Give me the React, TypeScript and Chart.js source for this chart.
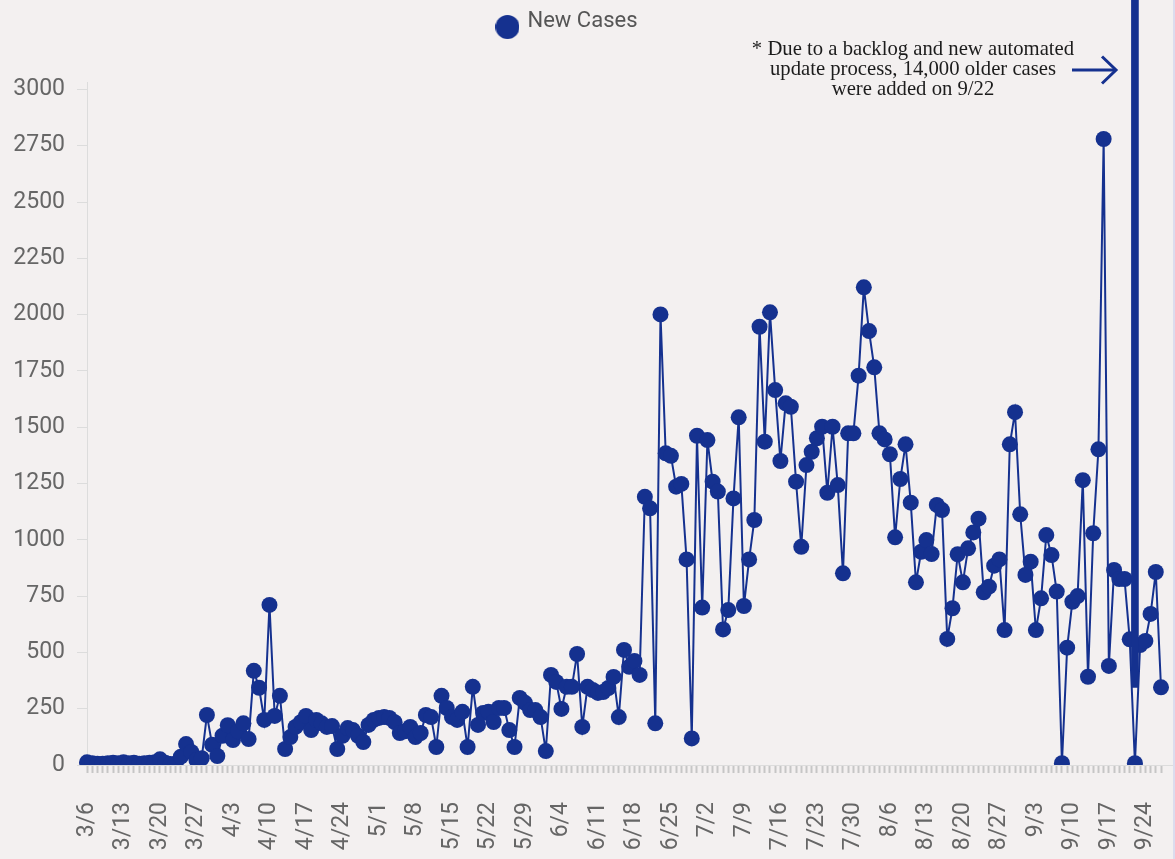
import React, { useEffect, useRef } from "react";
import { Chart, registerables } from "chart.js";

Chart.register(...registerables);

// ---- data -------------------------------------------------------------
const DATES: string[] = (
  "3/6 3/7 3/8 3/9 3/10 3/11 3/12 3/13 3/14 3/15 3/16 3/17 3/18 3/19 3/20 3/21 3/22 3/23 3/24 3/25 3/26 3/27 3/28 3/29 3/30 3/31 " +
  "4/1 4/2 4/3 4/4 4/5 4/6 4/7 4/8 4/9 4/10 4/11 4/12 4/13 4/14 4/15 4/16 4/17 4/18 4/19 4/20 4/21 4/22 4/23 4/24 4/25 4/26 4/27 4/28 4/29 4/30 " +
  "5/1 5/2 5/3 5/4 5/5 5/6 5/7 5/8 5/9 5/10 5/11 5/12 5/13 5/14 5/15 5/16 5/17 5/18 5/19 5/20 5/21 5/22 5/23 5/24 5/25 5/26 5/27 5/28 5/29 " +
  "5/30 5/31 5/31 6/1 6/2 6/3 " +
  "6/4 6/5 6/6 6/7 6/8 6/9 6/10 6/11 6/12 6/13 6/14 6/15 6/16 6/17 6/18 6/19 6/20 6/21 6/22 6/23 6/24 6/25 6/26 6/27 6/28 6/29 6/30 " +
  "7/1 7/2 7/3 7/4 7/5 7/6 7/7 7/8 7/9 7/10 7/11 7/12 7/13 7/14 7/15 7/16 7/17 7/18 7/19 7/20 7/21 7/22 7/23 7/24 7/25 7/26 7/27 7/28 7/29 7/30 7/31 " +
  "8/1 8/2 8/3 8/4 8/5 8/6 8/7 8/8 8/9 8/10 8/11 8/12 8/13 8/14 8/15 8/16 8/17 8/18 8/19 8/20 8/21 8/22 8/23 8/24 8/25 8/26 8/27 8/28 8/29 8/30 8/31 " +
  "9/1 9/2 9/3 9/4 9/5 9/6 9/7 9/8 9/9 9/10 9/11 9/12 9/13 9/14 9/15 9/16 9/17 9/18 9/19 9/20 9/21 9/22 9/23 9/24 9/25 9/26 9/27"
).split(" ");

const NEW_CASES: number[] = [
  12, 8, 6, 6, 8, 10, 8, 12, 8, 10, 6, 8, 10, 12, 25, 10, 4, 6, 37, 93,
  58, 22, 30, 222, 90, 40, 130, 177, 111, 150, 185, 115, 418, 343, 200, 711, 218, 307, 71, 124,
  169, 190, 218, 155, 200, 185, 169, 173, 71, 130, 164, 155, 130, 102, 178, 200, 209, 213, 209, 190,
  142, 150, 169, 124, 142, 222, 213, 80, 307, 253, 213, 200, 236, 80, 347, 178, 231, 236, 191, 253,
  253, 155, 80, 298, 276, 244, 244, 213, 62, 400, 369, 249, 347, 347, 493, 169, 347, 333, 320, 324,
  342, 391, 213, 511, 436, 462, 400, 1191, 1140, 185, 2001, 1384, 1373, 1236, 1248, 913, 118, 1462, 699, 1443,
  1258, 1214, 602, 688, 1184, 1544, 706, 913, 1088, 1946, 1436, 2010, 1665, 1350, 1606, 1591, 1258, 969, 1332, 1391,
  1451, 1502, 1209, 1502, 1243, 851, 1473, 1473, 1729, 2121, 1927, 1766, 1473, 1446, 1380, 1011, 1270, 1424, 1165, 811,
  947, 999, 937, 1155, 1132, 560, 696, 936, 811, 962, 1033, 1094, 767, 792, 885, 913, 599, 1424, 1567, 1113,
  844, 903, 599, 740, 1021, 932, 770, 8, 521, 725, 750, 1265, 392, 1029, 1402, 2780, 440, 866, 826, 826,
  558, 8, 533, 551, 671, 857, 345,
];

const BACKLOG_DATE = "9/22";
const BACKLOG_SPAN: [number, number] = [345, 14000];

const Y_TICKS = [0, 250, 500, 750, 1000, 1250, 1500, 1750, 2000, 2250, 2500, 2750, 3000];
const LABEL_EVERY = 7;

const NOTE_LINES = [
  "* Due to a backlog and new automated",
  "update process, 14,000 older cases",
  "were added on 9/22",
];

// ---- style ------------------------------------------------------------
const BLUE = "#15318f";
const BG = "#f3f0f0";
const AXIS = "#dcdcdc";
const TICK_TXT = "#666666";

export default function App() {
  const ref = useRef<HTMLCanvasElement>(null);

  useEffect(() => {
    document.body.style.margin = "0";
    document.body.style.background = BG;

    const dot = document.createElement("canvas");
    dot.width = 24;
    dot.height = 36;
    const dctx = dot.getContext("2d")!;
    dctx.fillStyle = BLUE;
    dctx.beginPath();
    dctx.arc(12, 24, 12, 0, Math.PI * 2);
    dctx.fill();
    const blank = document.createElement("canvas");
    blank.width = 1;
    blank.height = 1;

    const axisExtend = {
      id: "axisExtend",
      afterDraw(chart: any) {
        const { ctx, chartArea, width } = chart;
        ctx.save();
        ctx.strokeStyle = AXIS;
        ctx.lineWidth = 1;
        ctx.beginPath();
        ctx.moveTo(chartArea.right, Math.round(chartArea.bottom) + 0.5);
        ctx.lineTo(width, Math.round(chartArea.bottom) + 0.5);
        ctx.stroke();
        ctx.restore();
      },
    };

    const chart = new Chart(ref.current!, {
      type: "line",
      data: {
        labels: DATES,
        datasets: [
          {
            type: "line",
            label: "New Cases",
            data: NEW_CASES,
            borderColor: BLUE,
            backgroundColor: BLUE,
            borderWidth: 2,
            pointRadius: 8,
            pointHoverRadius: 8,
            pointBorderWidth: 0,
            pointBackgroundColor: BLUE,
            tension: 0,
            order: 2,
          } as any,
          {
            type: "bar",
            label: "",
            data: DATES.map((d) => (d === BACKLOG_DATE ? BACKLOG_SPAN : null)) as any,
            backgroundColor: BLUE,
            barThickness: 7,
            clip: false,
            order: 1,
          } as any,
        ],
      },
      plugins: [axisExtend],
      options: {
        animation: false,
        responsive: true,
        maintainAspectRatio: false,
        layout: { padding: { left: 0, right: 0, top: 0, bottom: 0 } },
        plugins: {
          tooltip: { enabled: false },
          legend: {
            position: "top",
            labels: {
              usePointStyle: true,
              boxWidth: 18,
              padding: 10,
              color: "#555",
              font: { family: "Roboto", size: 22 },
              generateLabels: () =>
                [
                  {
                    text: "New Cases",
                    pointStyle: dot,
                    fillStyle: BLUE,
                    strokeStyle: BLUE,
                    lineWidth: 0,
                    hidden: false,
                    datasetIndex: 0,
                    fontColor: "#555",
                  },
                  {
                    text: "",
                    pointStyle: blank,
                    fillStyle: "rgba(0,0,0,0)",
                    strokeStyle: "rgba(0,0,0,0)",
                    lineWidth: 0,
                    hidden: false,
                    datasetIndex: 1,
                  },
                ] as any,
            },
          },
          title: {
            display: true,
            text: "",
            weight: 500,
            font: { size: 10, lineHeight: 1 },
            padding: { top: 30, bottom: 0 },
          } as any,
        },
        scales: {
          x: {
            type: "category",
            offset: false,
            afterFit: (scale: any) => {
              scale.height = 94;
              scale.paddingLeft = 0;
              scale.paddingRight = 14;
            },
            grid: {
              offset: false,
              drawOnChartArea: false,
              drawTicks: true,
              tickLength: 8,
              tickColor: "#c6c6c6",
              tickWidth: 2,
            } as any,
            border: { display: true, color: AXIS, width: 1 },
            ticks: {
              autoSkip: false,
              maxRotation: 90,
              minRotation: 90,
              padding: 29,
              color: TICK_TXT,
              font: { family: "Roboto", size: 23 },
              callback: (_v: any, i: number) => (i % LABEL_EVERY === 0 ? DATES[i] : ""),
            },
          },
          y: {
            min: 0,
            max: 3033,
            afterBuildTicks: (scale: any) => {
              scale.ticks = Y_TICKS.map((v) => ({ value: v }));
            },
            afterFit: (scale: any) => {
              scale.width = 87;
              scale.paddingTop = 0;
              scale.paddingBottom = 0;
            },
            ticks: {
              padding: 12,
              color: TICK_TXT,
              font: { family: "Roboto", size: 23 },
              callback: (v: any) => String(v),
            },
            grid: {
              drawOnChartArea: false,
              drawTicks: true,
              tickLength: 10,
              tickColor: AXIS,
            },
            border: { display: true, color: AXIS, width: 1 },
          },
        },
      },
    });
    return () => chart.destroy();
  }, []);

  return (
    <div
      style={{
        position: "absolute",
        left: 0,
        top: 0,
        width: 1175,
        height: 859,
        background: BG,
        overflow: "hidden",
      }}
    >
      <canvas ref={ref} />
      <div
        style={{
          position: "absolute",
          left: 738,
          top: 38,
          width: 350,
          textAlign: "center",
          fontFamily: "'Liberation Serif', serif",
          fontSize: 20.7,
          lineHeight: "20px",
          color: "#1c1c1c",
          pointerEvents: "none",
        }}
      >
        {NOTE_LINES.map((l, i) => (
          <div key={i}>{l}</div>
        ))}
      </div>
      <svg
        style={{ position: "absolute", left: 1060, top: 50, pointerEvents: "none" }}
        width={70}
        height={40}
      >
        <line x1={12} y1={20} x2={56} y2={20} stroke={BLUE} strokeWidth={3} />
        <polyline points="42,6.5 56,20 42,33.5" fill="none" stroke={BLUE} strokeWidth={3} />
      </svg>
      <div
        style={{
          position: "absolute",
          left: 1173,
          top: 0,
          width: 2,
          height: 859,
          background: "#dcdcee",
        }}
      />
    </div>
  );
}
